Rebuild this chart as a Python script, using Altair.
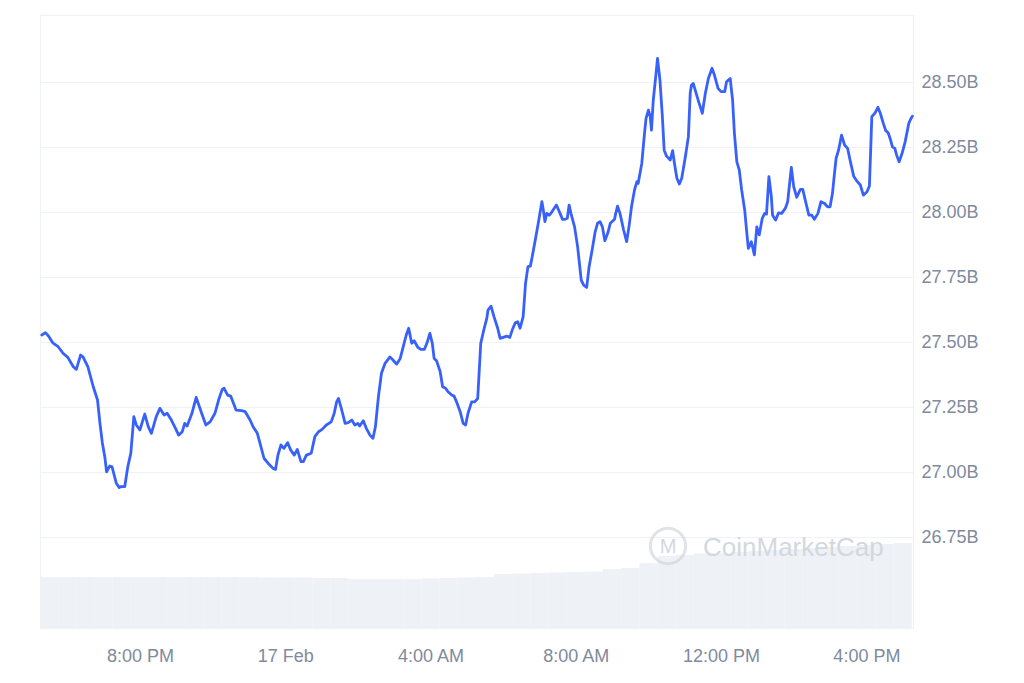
import altair as alt
import pandas as pd

# ---------------- data (market cap in billions) ----------------
TIMES_FEB16 = [
    "17:18", "17:24", "17:29", "17:36", "17:45", "17:53", "18:01", "18:10", "18:15", "18:22",
    "18:26", "18:34", "18:43", "18:50", "18:54", "18:58", "19:02", "19:05", "19:10", "19:14",
    "19:21", "19:26", "19:29", "19:35", "19:40", "19:45", "19:50", "19:54", "20:00", "20:08",
    "20:14", "20:19", "20:27", "20:33", "20:40", "20:45", "20:52", "21:00", "21:04", "21:10",
    "21:14", "21:18", "21:26", "21:33", "21:42", "21:49", "21:56", "22:04", "22:10", "22:16",
    "22:19", "22:25", "22:30", "22:39", "22:48", "22:54", "23:02", "23:07", "23:14", "23:20",
    "23:25", "23:32", "23:40", "23:44", "23:48", "23:53", "23:58",
]
TIMES_FEB17 = [
    "00:04", "00:09", "00:15", "00:20", "00:26", "00:30", "00:35", "00:43", "00:49", "00:55",
    "01:01", "01:08", "01:16", "01:21", "01:25", "01:28",
    "01:32", "01:39", "01:44", "01:50", "01:55", "02:00", "02:03", "02:09", "02:14", "02:20",
    "02:25", "02:29", "02:34", "02:39", "02:45", "02:53", "02:58", "03:04", "03:10", "03:15",
    "03:20", "03:24", "03:29", "03:33", "03:39", "03:44", "03:50", "03:54", "03:59", "04:03",
    "04:06", "04:10", "04:16", "04:20", "04:25", "04:29", "04:35", "04:39", "04:43", "04:49",
    "04:54", "04:58", "05:02", "05:08", "05:13", "05:18", "05:23", "05:28", "05:33", "05:35",
    "05:40", "05:45", "05:51", "05:55", "06:00", "06:06", "06:11", "06:15", "06:20", "06:24",
    "06:28", "06:33", "06:37", "06:41", "06:45", "06:48", "06:53", "06:58", "07:04", "07:06",
    "07:09", "07:12", "07:16", "07:19", "07:23", "07:28", "07:34", "07:38", "07:42", "07:46",
    "07:49", "07:52", "07:58", "08:03", "08:09", "08:13", "08:18", "08:22", "08:26", "08:32",
    "08:36", "08:40", "08:44", "08:48", "08:53", "08:57", "09:04", "09:06", "09:09", "09:13",
    "09:19", "09:24", "09:28", "09:32", "09:37", "09:41", "09:43",
    "09:49", "09:53", "09:56", "10:00", "10:03", "10:05", "10:08", "10:12", "10:15", "10:19",
    "10:23", "10:26", "10:30", "10:36", "10:40", "10:43", "10:47", "10:51", "10:55", "11:01",
    "11:06", "11:09", "11:11", "11:14", "11:18", "11:23", "11:29", "11:34", "11:39", "11:45",
    "11:49", "11:55", "12:00", "12:06", "12:09", "12:15", "12:19", "12:22", "12:26", "12:30",
    "12:34", "12:39", "12:42", "12:45", "12:50", "12:55", "12:59", "13:03", "13:08", "13:12",
    "13:15", "13:19", "13:23", "13:25", "13:30", "13:35", "13:40", "13:46", "13:50",
    "13:56", "14:00", "14:05", "14:11", "14:15", "14:19", "14:25", "14:30", "14:34", "14:40",
    "14:45", "14:51", "14:56", "15:00", "15:04", "15:07", "15:10", "15:14", "15:19", "15:24",
    "15:29", "15:33", "15:39", "15:44", "15:50", "15:55", "16:01", "16:05", "16:09", "16:14",
    "16:19", "16:23", "16:28", "16:32", "16:36", "16:40", "16:43", "16:47", "16:50", "16:54",
    "16:59", "17:04", "17:10", "17:13", "17:16",
]
MCAP_B = [
    27.527, 27.536, 27.523, 27.497, 27.482, 27.457, 27.441, 27.405, 27.395, 27.450,
    27.443, 27.405, 27.328, 27.277, 27.188, 27.112, 27.059, 27.001, 27.023, 27.020,
    26.957, 26.940, 26.944, 26.944, 27.020, 27.072, 27.213, 27.181, 27.162, 27.223,
    27.174, 27.149, 27.213, 27.245, 27.219, 27.226, 27.200, 27.162, 27.142, 27.155,
    27.187, 27.177, 27.226, 27.287, 27.226, 27.181, 27.193, 27.226, 27.277, 27.318,
    27.322, 27.296, 27.292, 27.238, 27.236, 27.232, 27.200, 27.174, 27.149, 27.097,
    27.053, 27.033, 27.014, 27.010, 27.065, 27.104, 27.091,
    27.113, 27.085, 27.065, 27.087, 27.040, 27.040, 27.065, 27.072, 27.136, 27.155,
    27.164, 27.181, 27.193, 27.226, 27.270, 27.283,
    27.251, 27.187, 27.190, 27.200, 27.181, 27.187, 27.177, 27.197, 27.168, 27.142,
    27.130, 27.174, 27.290, 27.380, 27.418, 27.443, 27.431, 27.415, 27.437, 27.482,
    27.527, 27.553, 27.495, 27.505, 27.480, 27.472, 27.472, 27.495, 27.533, 27.495,
    27.437, 27.428, 27.386, 27.328, 27.322, 27.309, 27.296, 27.292, 27.270, 27.232,
    27.187, 27.181, 27.226, 27.270, 27.270, 27.283, 27.495, 27.546, 27.591, 27.623,
    27.638, 27.597, 27.553, 27.514, 27.518, 27.523, 27.518, 27.546, 27.574, 27.578,
    27.553, 27.597, 27.726, 27.790, 27.792, 27.828, 27.892, 27.957, 28.040, 28.014,
    27.963, 27.995, 27.988, 27.995, 28.010, 28.027, 27.995, 27.972, 27.972, 27.976,
    28.027, 27.995, 27.943, 27.867, 27.738, 27.719, 27.710, 27.790, 27.841, 27.924,
    27.957, 27.963, 27.943, 27.890, 27.920, 27.957, 27.972, 27.995, 28.023, 27.995,
    27.931, 27.886, 27.946, 28.020, 28.085, 28.117, 28.110,
    28.187, 28.290, 28.360, 28.392, 28.367, 28.315, 28.431, 28.520, 28.591, 28.508,
    28.367, 28.238, 28.215, 28.200, 28.236, 28.187, 28.130, 28.108, 28.130, 28.213,
    28.290, 28.457, 28.488, 28.495, 28.463, 28.424, 28.380, 28.457, 28.514, 28.553,
    28.527, 28.476, 28.463, 28.463, 28.501, 28.514, 28.431, 28.303, 28.193, 28.162,
    28.085, 28.008, 27.931, 27.860, 27.886, 27.835, 27.943, 27.912, 27.976, 27.995,
    27.992, 28.136, 28.059, 27.988, 27.969, 27.997, 27.995, 28.014, 28.040,
    28.172, 28.097, 28.057, 28.087, 28.087, 28.046, 27.988, 27.988, 27.972, 27.995,
    28.040, 28.033, 28.020, 28.020, 28.072, 28.142, 28.207, 28.238, 28.296, 28.258,
    28.245, 28.200, 28.138, 28.120, 28.104, 28.065, 28.078, 28.100, 28.367, 28.380,
    28.403, 28.380, 28.341, 28.313, 28.305, 28.277, 28.251, 28.245, 28.219, 28.193,
    28.226, 28.270, 28.341, 28.357, 28.369,
]

# volume (billions), 30-minute buckets
VOL_TIMES_FEB16 = ["17:15", "17:45", "18:15", "18:45", "19:15", "19:45", "20:15",
                   "20:45", "21:15", "21:45", "22:15", "22:45", "23:15", "23:45"]
VOL_TIMES_FEB17 = ["00:15", "00:45", "01:15", "01:45", "02:15", "02:45", "03:15",
                   "03:45", "04:15", "04:45", "05:15", "05:45", "06:15", "06:45",
                   "07:15", "07:45", "08:15", "08:45", "09:15", "09:45", "10:15",
                   "10:45", "11:15", "11:45", "12:15", "12:45", "13:15", "13:45",
                   "14:15", "14:45", "15:15", "15:45", "16:15", "16:45"]
VOL_B = [0.51, 0.51, 0.51, 0.51, 0.51, 0.51, 0.51, 0.51, 0.51, 0.51, 0.51, 0.51,
         0.505, 0.505, 0.505, 0.50, 0.50, 0.49, 0.49, 0.49, 0.49, 0.495, 0.50, 0.505,
         0.51, 0.54, 0.545, 0.55, 0.555, 0.56, 0.565, 0.59, 0.60, 0.65, 0.72, 0.73,
         0.745, 0.75, 0.76, 0.77, 0.78, 0.79, 0.80, 0.81, 0.82, 0.83, 0.84, 0.85]

Y_TICKS = [26.75, 27.00, 27.25, 27.50, 27.75, 28.00, 28.25, 28.50]

assert len(TIMES_FEB16) + len(TIMES_FEB17) == len(MCAP_B), (len(TIMES_FEB16) + len(TIMES_FEB17), len(MCAP_B))
assert len(VOL_TIMES_FEB16) + len(VOL_TIMES_FEB17) == len(VOL_B)

times = ["2024-02-16T" + t for t in TIMES_FEB16] + ["2024-02-17T" + t for t in TIMES_FEB17]
line_df = pd.DataFrame({"time": times, "mcap": MCAP_B})

vstart = ["2024-02-16T" + t for t in VOL_TIMES_FEB16] + ["2024-02-17T" + t for t in VOL_TIMES_FEB17]
vend = [(pd.Timestamp(s) + pd.Timedelta(minutes=30)).strftime("%Y-%m-%dT%H:%M") for s in vstart]
vol_df = pd.DataFrame({"start": vstart, "end": vend, "vol": VOL_B})

# ---------------- styling ----------------
FONT = "Liberation Sans"
LABEL_COLOR = "#808a9d"
GRID_COLOR = "#eff2f5"
LINE_COLOR = "#3861fb"
WM_COLOR = "#d3d8df"

x_scale = alt.Scale(domain=[alt.DateTime(year=2024, month=2, date=16, hours=17, minutes=15),
                            alt.DateTime(year=2024, month=2, date=17, hours=17, minutes=17)])
x_axis = alt.Axis(
    values=[alt.DateTime(year=2024, month=2, date=16, hours=20),
            alt.DateTime(year=2024, month=2, date=17, hours=0),
            alt.DateTime(year=2024, month=2, date=17, hours=4),
            alt.DateTime(year=2024, month=2, date=17, hours=8),
            alt.DateTime(year=2024, month=2, date=17, hours=12),
            alt.DateTime(year=2024, month=2, date=17, hours=16)],
    labelExpr="hours(datum.value) == 0 ? timeFormat(datum.value, '%-d %b') : timeFormat(datum.value, '%-I:%M %p')",
    grid=False, ticks=False, tickSize=0, domain=False, title=None,
    labelFont=FONT, labelFontSize=18, labelColor=LABEL_COLOR, labelPadding=19,
    labelFlush=False,
)
y_axis = alt.Axis(
    orient="right", values=Y_TICKS, labelExpr="format(datum.value, '.2f') + 'B'",
    grid=True, gridColor=GRID_COLOR, gridWidth=1, ticks=False, tickSize=0, domain=False,
    title=None, labelFont=FONT, labelFontSize=18, labelColor=LABEL_COLOR, labelPadding=8,
)

vol = alt.Chart(vol_df).mark_rect(color="#eef1f6").encode(
    x=alt.X("start:T", scale=x_scale, axis=x_axis),
    x2="end:T",
    y=alt.Y("vol:Q", scale=alt.Scale(domain=[0, 6.13], nice=False), axis=None),
    y2=alt.datum(0),
)

wm_df = pd.DataFrame({"w": [0]})
wm_ring = alt.Chart(wm_df).mark_point(shape="circle", size=1250, filled=False,
                                      stroke=WM_COLOR, strokeWidth=3).encode(
    x=alt.value(628), y=alt.value(531))
wm_m = alt.Chart(wm_df).mark_text(text="M", font=FONT, fontSize=20, color=WM_COLOR,
                                  align="center", baseline="middle").encode(
    x=alt.value(628), y=alt.value(532))
wm_text = alt.Chart(wm_df).mark_text(text="CoinMarketCap", font=FONT, fontSize=26,
                                     color=WM_COLOR, align="left", baseline="middle").encode(
    x=alt.value(663), y=alt.value(533))

line = alt.Chart(line_df).mark_line(color=LINE_COLOR, strokeWidth=2.8,
                                    strokeJoin="round", strokeCap="round").encode(
    x=alt.X("time:T", scale=x_scale, axis=x_axis),
    y=alt.Y("mcap:Q", scale=alt.Scale(domain=[26.4, 28.758], nice=False, zero=False), axis=y_axis),
)

chart = (
    alt.layer(vol, wm_ring, wm_m, wm_text, line)
    .resolve_scale(y="independent")
    .properties(
        width=873, height=613,
        autosize=alt.AutoSizeParams(type="none"),
        padding={"left": 40, "top": 15, "right": 111, "bottom": 55},
        background="white",
    )
    .configure_view(stroke=GRID_COLOR, strokeWidth=1)
)

chart.save("out.html", embed_options={"renderer": "svg", "actions": False})
